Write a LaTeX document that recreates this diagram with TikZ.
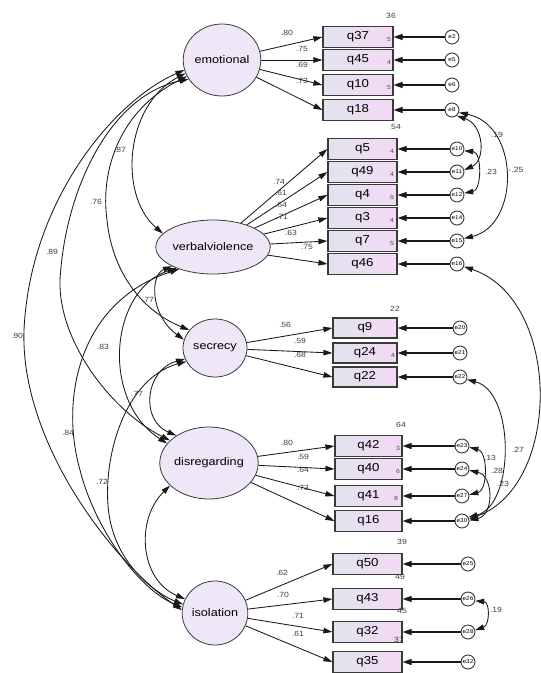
\documentclass[tikz,border=0pt]{standalone}
\usepackage{fontspec}
\setmainfont[FakeStretch=1.15]{Liberation Sans}
\usetikzlibrary{arrows.meta,shapes.geometric}
\definecolor{latfill}{HTML}{EFE6F7}
\definecolor{boxleft}{HTML}{E2E3EE}
\definecolor{boxright}{HTML}{F3D9F4}
\definecolor{edge}{HTML}{3A3A3A}
\begin{document}
\begin{tikzpicture}[x=1pt,y=-1pt,
  arr/.style={-{Triangle[length=9pt,width=5.5pt]},line width=0.85pt,draw=black!90},
  earr/.style={-{Triangle[length=9pt,width=6pt]},line width=1.1pt,draw=black!90},
  dbl/.style={{Triangle[length=9pt,width=5.5pt]}-{Triangle[length=9pt,width=5.5pt]},line width=0.85pt,draw=black!90},
  latent/.style={ellipse,draw=edge,fill=latfill,inner sep=0pt,line width=0.8pt,font=\fontsize{11}{12}\selectfont},
  obs/.style={rectangle,draw=edge,line width=1.2pt,left color=boxleft,right color=boxright,inner sep=0pt,font=\fontsize{11.5}{13}\selectfont},
  gA/.style={obs,minimum width=70pt,minimum height=21pt},
  gB/.style={obs,minimum width=69pt,minimum height=21.5pt},
  gC/.style={obs,minimum width=64pt,minimum height=20pt},
  gD/.style={obs,minimum width=67pt,minimum height=21pt},
  gE/.style={obs,minimum width=69pt,minimum height=21pt},
  err/.style={circle,draw=edge,fill=white,minimum size=14pt,inner sep=0pt,line width=0.9pt,font=\fontsize{5.5}{6}\selectfont},
  lab/.style={font=\fontsize{7.5}{8}\selectfont,text=black!75,inner sep=0pt},
  small/.style={font=\fontsize{6}{6}\selectfont,text=black!70,inner sep=0pt}]
\fill[white] (0,0) rectangle (541,673);
\useasboundingbox (0,0) rectangle (541,673);

% latent variables
\node[latent,minimum width=75pt,minimum height=72pt] (em) at (222,60) {emotional};
\node[latent,minimum width=97pt,minimum height=54pt] (vv) at (213,247) {verbalviolence};
\node[latent,minimum width=64pt,minimum height=58pt] (sec) at (215,348) {secrecy};
\node[latent,minimum width=94pt,minimum height=72pt] (dis) at (209,463) {disregarding};
\node[latent,minimum width=60pt,minimum height=64pt] (iso) at (215,613) {isolation};

% observed variables
\node[gA] (q37) at (358,37) {q37};
\node[gA] (q45) at (358,60) {q45};
\node[gA] (q10) at (358,85) {q10};
\node[gA] (q18) at (358,110) {q18};
\node[gB] (q5) at (362.5,149) {q5};
\node[gB] (q49) at (362.5,172) {q49};
\node[gB] (q4) at (362.5,195) {q4};
\node[gB] (q3) at (362.5,218) {q3};
\node[gB] (q7) at (362.5,241) {q7};
\node[gB] (q46) at (362.5,264) {q46};
\node[gC] (q9) at (365,328) {q9};
\node[gC] (q24) at (365,353) {q24};
\node[gC] (q22) at (365,377) {q22};
\node[gD] (q42) at (368.5,446) {q42};
\node[gD] (q40) at (368.5,469) {q40};
\node[gD] (q41) at (368.5,496) {q41};
\node[gD] (q16) at (368.5,521) {q16};
\node[gE] (q50) at (367.5,564) {q50};
\node[gE] (q43) at (367.5,599) {q43};
\node[gE] (q32) at (367.5,632) {q32};
\node[gE] (q35) at (367.5,662) {q35};

% errors
\node[err] (eq37) at (452,37) {e2};
\node[err] (eq45) at (452,60) {e5};
\node[err] (eq10) at (452,85) {e6};
\node[err] (eq18) at (452,110) {e8};
\node[err] (eq5) at (457,149) {e10};
\node[err] (eq49) at (457,172) {e11};
\node[err] (eq4) at (457,195) {e12};
\node[err] (eq3) at (457,218) {e14};
\node[err] (eq7) at (457,241) {e15};
\node[err] (eq46) at (457,264) {e16};
\node[err] (eq9) at (460,328) {e20};
\node[err] (eq24) at (460,353) {e21};
\node[err] (eq22) at (460,377) {e22};
\node[err] (eq42) at (462,446) {e23};
\node[err] (eq40) at (462,469) {e24};
\node[err] (eq41) at (462,496) {e27};
\node[err] (eq16) at (462,521) {e30};
\node[err] (eq50) at (468,564) {e25};
\node[err] (eq43) at (468,599) {e26};
\node[err] (eq32) at (468,632) {e28};
\node[err] (eq35) at (468,662) {e32};

% error arrows
\foreach \q in {37,45,10,18,5,49,4,3,7,46,9,24,22,42,40,41,16,50,43,32,35}
  \draw[earr] (eq\q) -- (q\q.east);

% loadings
\foreach \q in {37,45,10,18} \draw[arr] (em) -- (q\q.west);
\foreach \q in {5,49,4,3,7,46} \draw[arr] (vv) -- (q\q.west);
\foreach \q in {9,24,22} \draw[arr] (sec) -- (q\q.west);
\foreach \q in {42,40,41,16} \draw[arr] (dis) -- (q\q.west);
\foreach \q in {50,43,32,35} \draw[arr] (iso) -- (q\q.west);

% loading labels
\node[lab] (l1) at (287,33) {.80};
\node[lab] (l2) at (302,49) {.75};
\node[lab] (l3) at (302,65) {.69};
\node[lab] (l4) at (302,81) {.73};
\node[lab] (l5) at (279,182) {.74};
\node[lab] (l6) at (281,193) {.61};
\node[lab] (l7) at (281,205) {.64};
\node[lab] (l8) at (282,217) {.71};
\node[lab] (l9) at (291,233) {.63};
\node[lab] (l10) at (307,247) {.75};
\node[lab] (l11) at (285,325) {.56};
\node[lab] (l12) at (300,341) {.59};
\node[lab] (l13) at (300,355) {.68};
\node[lab] (l14) at (287,443) {.80};
\node[lab] (l15) at (303,457) {.59};
\node[lab] (l16) at (303,470) {.64};
\node[lab] (l17) at (303,488) {.73};
\node[lab] (l18) at (282,573) {.62};
\node[lab] (l19) at (283,595) {.70};
\node[lab] (l20) at (298,616) {.71};
\node[lab] (l21) at (298,634) {.61};

% R-square style numbers
\node[lab] (r1) at (391,16) {36};
\node[lab] (r2) at (396,127) {54};
\node[lab] (r3) at (395,309) {22};
\node[lab] (r4) at (401,425) {64};
\node[lab] (r5) at (402,542) {39};
\node[lab] (r6) at (400,577) {49};
\node[lab] (r7) at (402,611) {45};
\node[lab] (r8) at (399,640) {37};
\node[small] (s1) at (389,39) {5};
\node[small] (s2) at (389,62) {4};
\node[small] (s3) at (389,87) {5};
\node[small] (s4) at (392,151) {4};
\node[small] (s5) at (392,174) {4};
\node[small] (s6) at (392,197) {6};
\node[small] (s7) at (392,220) {4};
\node[small] (s8) at (392,243) {5};
\node[small] (s9) at (393,355) {4};
\node[small] (s10) at (398,448) {3};
\node[small] (s11) at (398,471) {6};
\node[small] (s12) at (396,498) {8};

% factor covariances
\draw[dbl] (em.200) .. controls (125,105) and (118,195) .. (vv.165);
\draw[dbl] (em.205) .. controls (120,110) and (100,170) .. (107,220) .. controls (112,270) and (140,310) .. (sec.145);
\draw[dbl] (em.210) .. controls (110,95) and (65,190) .. (60,280) .. controls (58,340) and (110,410) .. (dis.150);
\draw[dbl] (em.195) .. controls (115,100) and (30,200) .. (24,330) .. controls (20,440) and (110,560) .. (iso.175);
\draw[dbl] (vv.205) .. controls (150,275) and (150,315) .. (sec.165);
\draw[dbl] (vv.210) .. controls (110,290) and (100,400) .. (dis.155);
\draw[dbl] (vv.213) .. controls (78,302) and (60,400) .. (80,470) .. controls (95,530) and (140,590) .. (iso.170);
\draw[dbl] (sec.200) .. controls (145,370) and (140,420) .. (dis.140);
\draw[dbl] (sec.205) .. controls (120,380) and (100,470) .. (110,520) .. controls (120,570) and (160,595) .. (iso.165);
\draw[dbl] (iso.155) .. controls (140,580) and (135,520) .. (dis.210);

\node[lab] (c1) at (120,150) {.87};
\node[lab] (c2) at (96,202) {.76};
\node[lab] (c3) at (52,252) {.89};
\node[lab] (c4) at (17,336) {.90};
\node[lab] (c5) at (148,300) {.77};
\node[lab] (c6) at (103,347) {.83};
\node[lab] (c7) at (68,433) {.84};
\node[lab] (c8) at (137,394) {.77};
\node[lab] (c9) at (102,482) {.72};

% error covariances
\draw[dbl] (eq18.-20) .. controls (520,125) and (520,225) .. (eq7.20);
\draw[dbl] (eq18.-50) .. controls (484,125) and (486,160) .. (eq49.15);
\draw[dbl] (eq5.-15) .. controls (482,152) and (482,190) .. (eq4.15);
\draw[dbl] (eq46.-20) .. controls (562,300) and (562,485) .. (eq16.15);
\draw[dbl] (eq22.-20) .. controls (515,392) and (515,505) .. (eq16.30);
\draw[dbl] (eq42.-10) .. controls (488,452) and (488,490) .. (eq41.10);
\draw[dbl] (eq40.-10) .. controls (494,476) and (494,515) .. (eq16.5);
\draw[dbl] (eq43.-15) .. controls (490,602) and (490,625) .. (eq32.15);

\node[lab] (d1) at (497,135) {.19};
\node[lab] (d2) at (491,172) {.23};
\node[lab] (d3) at (516,170) {-.25};
\node[lab] (d4) at (518,450) {.27};
\node[lab] (d5) at (490,458) {.13};
\node[lab] (d6) at (497,471) {.28};
\node[lab] (d7) at (503,484) {.23};
\node[lab] (d8) at (496,610) {.19};
\end{tikzpicture}
\end{document}
